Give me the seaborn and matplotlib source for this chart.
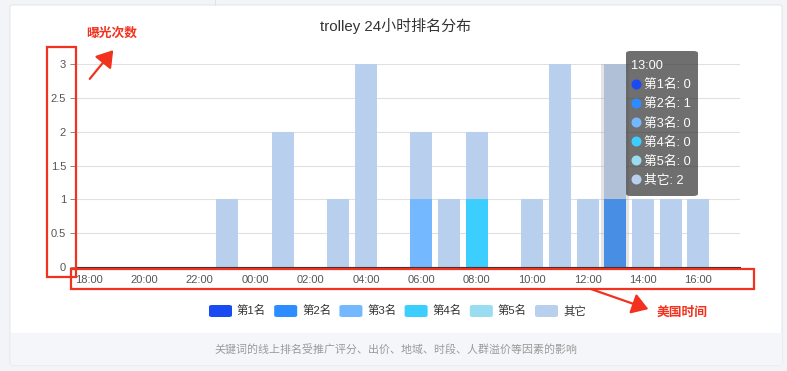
import numpy as np
import pandas as pd
import matplotlib
matplotlib.use("Agg")
import matplotlib.pyplot as plt
from matplotlib.patches import Rectangle, FancyBboxPatch, FancyArrowPatch
import seaborn as sns

# ---------------- data ----------------
hours = ["18:00", "19:00", "20:00", "21:00", "22:00", "23:00",
         "00:00", "01:00", "02:00", "03:00", "04:00", "05:00",
         "06:00", "07:00", "08:00", "09:00", "10:00", "11:00",
         "12:00", "13:00", "14:00", "15:00", "16:00", "17:00"]
series_names = ["第1名", "第2名", "第3名", "第4名", "第5名", "其它"]
rank1 = [0] * 24
rank2 = [0, 0, 0, 0, 0, 0, 0, 0, 0, 0, 0, 0, 0, 0, 0, 0, 0, 0, 0, 1, 0, 0, 0, 0]
rank3 = [0, 0, 0, 0, 0, 0, 0, 0, 0, 0, 0, 0, 1, 0, 0, 0, 0, 0, 0, 0, 0, 0, 0, 0]
rank4 = [0, 0, 0, 0, 0, 0, 0, 0, 0, 0, 0, 0, 0, 0, 1, 0, 0, 0, 0, 0, 0, 0, 0, 0]
rank5 = [0] * 24
others = [0, 0, 0, 0, 0, 1, 0, 2, 0, 1, 3, 0, 1, 1, 1, 0, 1, 3, 1, 2, 1, 1, 1, 0]
colors = ["#1a4af2", "#2d8cff", "#74b9ff", "#3ccefe", "#9adcf0", "#b8cfee"]
y_ticks = [0, 0.5, 1, 1.5, 2, 2.5, 3]
hover_hour = "13:00"
title = "trolley 24小时排名分布"
footer = "关键词的线上排名受推广评分、出价、地域、时段、人群溢价等因素的影响"

series_values = [rank1, rank2, rank3, rank4, rank5, others]

rows = []
for name, vals in zip(series_names, series_values):
    for i, v in enumerate(vals):
        rows.append({"pos": i, "hour": hours[i], "rank": name, "count": v})
df = pd.DataFrame(rows)

# ---------------- style ----------------
sns.set_theme(style="white")
plt.rcParams["font.family"] = ["Liberation Sans", "Noto Sans CJK SC", "DejaVu Sans"]

W, H = 787, 371
fig = plt.figure(figsize=(W / 100, H / 100), dpi=100)
fig.patch.set_facecolor("#f2f4f7")


def P(x, y):
    return (x / W, 1 - y / H)


# card background
fig.add_artist(FancyBboxPatch(P(10, 365), (782 - 10) / W, (365 - 5) / H,
                              boxstyle="round,pad=0,rounding_size=0.004",
                              transform=fig.transFigure, facecolor="white",
                              edgecolor="#e4e7ec", lw=0.8, zorder=-3))
fig.add_artist(Rectangle(P(10.5, 364.5), (781.5 - 10.5) / W, (364.5 - 333) / H,
                         transform=fig.transFigure, facecolor="#f4f6f9",
                         edgecolor="none", zorder=-2))
fig.add_artist(plt.Line2D([215 / W, 215 / W], [1, 1 - 5 / H], transform=fig.transFigure,
                          color="#dfe3e8", lw=0.8, zorder=-3))

ax = fig.add_axes([75 / W, 1 - 267 / H, (740 - 75) / W, (267 - 64.3) / H])
ax.set_facecolor("none")

stack_order = series_names[::-1]
palette = dict(zip(series_names, colors))
sns.histplot(data=df, x="pos", weights="count", hue="rank", hue_order=stack_order,
             palette=palette, multiple="stack", discrete=True, shrink=0.79,
             alpha=1, linewidth=0, legend=False, ax=ax, zorder=2)

# hover shadow over the 13:00 column
hp = hours.index(hover_hour)
ax.axvspan(hp - 0.5, hp + 0.5, color=(150 / 255, 150 / 255, 150 / 255), alpha=0.25,
           lw=0, zorder=3)

ax.set_xlim(-0.5, len(hours) - 0.5)
ax.set_ylim(0, 3)
ax.set_xlabel("")
ax.set_ylabel("")
ax.set_yticks(y_ticks)
ax.set_yticklabels([f"{t:g}" for t in y_ticks])
ax.yaxis.grid(True, color="#e0e0e0", lw=0.8, zorder=0)
ax.set_axisbelow(True)
ax.xaxis.grid(False)

ax.set_xticks(range(0, len(hours), 2))
ax.set_xticklabels(hours[0::2])
ax.set_xticks(range(1, len(hours), 2), minor=True)
ax.tick_params(axis="x", which="major", length=0, pad=6, labelsize=8, labelcolor="#555555")
ax.tick_params(axis="x", which="minor", length=4, width=0.7, color="#333333", direction="out")
ax.tick_params(axis="y", which="major", length=3.5, width=0.7, color="#888888",
               labelsize=8, labelcolor="#555555", pad=3, left=True)
for s in ["left", "top", "right"]:
    ax.spines[s].set_visible(False)
ax.spines["bottom"].set_color("#333333")
ax.spines["bottom"].set_linewidth(0.8)

# title
fig.text(*P(396, 26), title, ha="center", va="center", fontsize=10.8, color="#333333")

# legend (manual, echarts style)
x0, step = 209, 65.2
for i, (name, c) in enumerate(zip(series_names, colors)):
    xs = x0 + i * step
    fig.add_artist(FancyBboxPatch(P(xs, 317), 23 / W, 12 / H,
                                  boxstyle="round,pad=0,rounding_size=0.004",
                                  transform=fig.transFigure, facecolor=c,
                                  edgecolor="none", zorder=4))
    fig.text(*P(xs + 28, 311.5), name, ha="left", va="center", fontsize=8.2,
             color="#333333")

# footer
fig.text(*P(396, 349), footer, ha="center", va="center", fontsize=7.9, color="#9a9a9a")

# tooltip
fig.add_artist(FancyBboxPatch(P(626, 196), (698 - 626) / W, (196 - 51) / H,
                              boxstyle="round,pad=0,rounding_size=0.006",
                              transform=fig.transFigure,
                              facecolor=(50 / 255, 50 / 255, 50 / 255, 0.7),
                              edgecolor="none", zorder=10))
fig.text(*P(631, 66), hover_hour, ha="left", va="center", fontsize=9.2,
         color="white", zorder=11)
for k, (name, vals, c) in enumerate(zip(series_names, series_values, colors)):
    yy = 85 + 19.2 * k
    px, py = P(636, yy - 1.5)
    fig.add_artist(plt.Line2D([px], [py], transform=fig.transFigure, marker="o",
                              markersize=7.2, markerfacecolor=c, markeredgewidth=0,
                              linestyle="none", zorder=11))
    fig.text(*P(644, yy), f"{name}: {vals[hp]}", ha="left", va="center",
             fontsize=9.2, color="white", zorder=11)

# red annotations
red = "#f2311f"
fig.add_artist(Rectangle(P(47, 277), (76 - 47) / W, (277 - 47) / H, transform=fig.transFigure,
                         fill=False, edgecolor=red, lw=1.6, zorder=12))
fig.add_artist(Rectangle(P(71, 289), (754 - 71) / W, (289 - 269) / H, transform=fig.transFigure,
                         fill=False, edgecolor=red, lw=1.6, zorder=12))
fig.add_artist(FancyArrowPatch(P(88, 81), P(115, 48), transform=fig.transFigure,
                               arrowstyle="-|>,head_length=0.7,head_width=0.45",
                               mutation_scale=14, color=red, lw=1.6, zorder=12))
fig.add_artist(FancyArrowPatch(P(588, 288), P(651, 310), transform=fig.transFigure,
                               arrowstyle="-|>,head_length=0.7,head_width=0.45",
                               mutation_scale=14, color=red, lw=1.6, zorder=12))
fig.text(*P(86, 34), "曝光次数", ha="left", va="center", fontsize=9.2,
         fontweight="bold", color=red, zorder=12)
fig.text(*P(657, 313), "美国时间", ha="left", va="center", fontsize=9.2,
         fontweight="bold", color=red, zorder=12)

fig.savefig("out.png", dpi=100, facecolor=fig.get_facecolor())
